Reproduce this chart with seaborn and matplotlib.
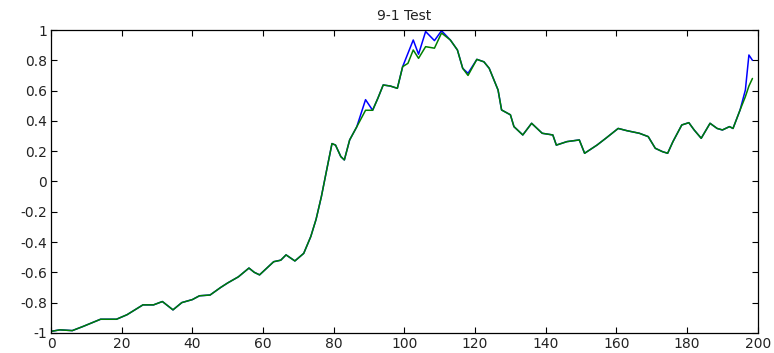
import matplotlib
matplotlib.use("Agg")
import matplotlib.pyplot as plt
import seaborn as sns

sns.set_style("ticks")
plt.rcParams['font.family'] = ['DejaVu Sans']

# values
x = [0, 2.5, 6, 9, 14, 18.5, 21.5, 26, 29, 31.5, 34.5, 37, 40, 42, 45, 48, 50,
     53, 56, 57.5, 59, 63, 65, 66.5, 69, 71.5, 73.5, 75, 76.5, 78, 79.5, 80.5,
     82, 83, 84.5, 86.5, 89, 91, 92.5, 94, 96, 98, 99.5, 101, 102.5, 104, 106,
     108.5, 110.5, 113, 115, 116.5, 118, 120.5, 122.5, 124, 126.5, 127.5, 130,
     131, 133.5, 136, 139, 142, 143, 146, 149.5, 151, 154.5, 157, 160.5, 163,
     166.5, 169, 171, 173, 174.5, 176, 178.5, 180.5, 182, 184, 186.5, 188.5,
     190, 192, 193, 195, 196.5, 197.5, 198.5]

blue = [-0.99, -0.98, -0.985, -0.958, -0.91, -0.91, -0.88, -0.815, -0.815,
        -0.793, -0.848, -0.80, -0.78, -0.755, -0.75, -0.70, -0.67, -0.63,
        -0.572, -0.60, -0.617, -0.53, -0.52, -0.485, -0.525, -0.475, -0.364,
        -0.25, -0.10, 0.076, 0.25, 0.24, 0.164, 0.142, 0.274, 0.36, 0.54, 0.47,
        0.55, 0.637, 0.63, 0.615, 0.758, 0.846, 0.934, 0.84, 0.99, 0.93, 0.995,
        0.934, 0.868, 0.747, 0.714, 0.806, 0.79, 0.747, 0.604, 0.472, 0.44,
        0.362, 0.307, 0.384, 0.318, 0.307, 0.24, 0.263, 0.274, 0.186, 0.24,
        0.285, 0.35, 0.335, 0.318, 0.296, 0.219, 0.197, 0.186, 0.263, 0.373,
        0.388, 0.34, 0.285, 0.384, 0.35, 0.34, 0.362, 0.35, 0.472, 0.604, 0.835,
        0.80]

green = [-0.99, -0.98, -0.985, -0.958, -0.91, -0.91, -0.88, -0.815, -0.815,
         -0.793, -0.848, -0.80, -0.78, -0.755, -0.75, -0.70, -0.67, -0.63,
         -0.572, -0.60, -0.617, -0.53, -0.52, -0.485, -0.525, -0.475, -0.364,
         -0.25, -0.10, 0.076, 0.25, 0.24, 0.164, 0.142, 0.274, 0.36, 0.47, 0.47,
         0.55, 0.637, 0.63, 0.615, 0.758, 0.78, 0.868, 0.813, 0.89, 0.88, 0.98,
         0.934, 0.868, 0.747, 0.70, 0.806, 0.79, 0.747, 0.604, 0.472, 0.44,
         0.362, 0.307, 0.384, 0.318, 0.307, 0.24, 0.263, 0.274, 0.186, 0.24,
         0.285, 0.35, 0.335, 0.318, 0.296, 0.219, 0.197, 0.186, 0.263, 0.373,
         0.388, 0.34, 0.285, 0.384, 0.35, 0.34, 0.362, 0.35, 0.472, 0.56, 0.63,
         0.68]

fig = plt.figure(figsize=(7.74, 3.53), dpi=100)
ax = fig.add_axes([0.066, 0.057, 0.913, 0.858])

sns.lineplot(x=x, y=blue, color=(0, 0, 1), linewidth=1.1, estimator=None, sort=False, ax=ax)
sns.lineplot(x=x, y=green, color=(0, 0.5, 0), linewidth=1.1, estimator=None, sort=False, ax=ax)

ax.set_xlim(0, 200)
ax.set_ylim(-1, 1)
ax.set_xticks(range(0, 201, 20))
ax.set_yticks([-1, -0.8, -0.6, -0.4, -0.2, 0, 0.2, 0.4, 0.6, 0.8, 1])
ax.set_yticklabels(['-1', '-0.8', '-0.6', '-0.4', '-0.2', '0', '0.2', '0.4', '0.6', '0.8', '1'])
ax.tick_params(direction='in', top=True, right=True, length=4, width=0.8,
               labelsize=10, pad=3, colors='black', labelcolor='#222222')
for s in ax.spines.values():
    s.set_visible(True)
    s.set_linewidth(0.9)
    s.set_color('black')
ax.set_title('9-1 Test', fontsize=10, pad=7, color='#222222')

fig.savefig('out.png', dpi=100)
plt.close(fig)
